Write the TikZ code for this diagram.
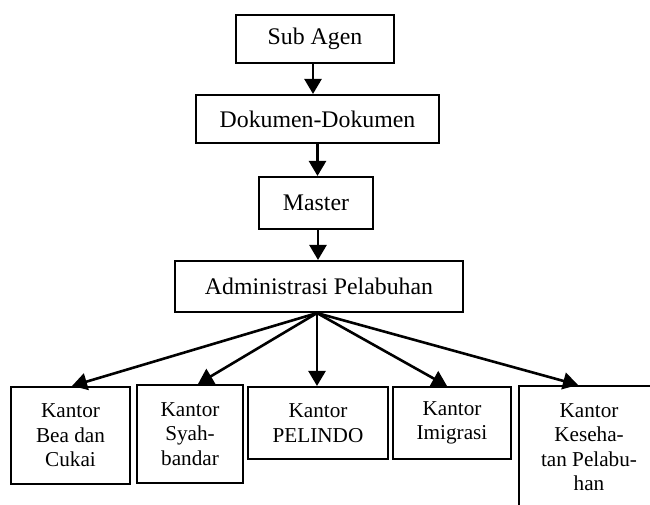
\documentclass[tikz,border=0pt]{standalone}
\usepackage{fontspec}
\setmainfont{Liberation Serif}
\usetikzlibrary{arrows.meta,calc}
\begin{document}
\begin{tikzpicture}[x=1pt,y=-1pt,
  box/.style={draw,line width=2.1pt,inner sep=0pt,align=center,font=\fontsize{23.8}{28}\selectfont},
  lowbox/.style={draw,line width=2.1pt,inner sep=0pt,align=center,font=\fontsize{21.2}{24.5}\selectfont},
  arr/.style={line width=2.6pt,-{Triangle[length=15pt,width=17pt]}}]
\useasboundingbox (0,0) rectangle (650,504);
\clip (0,0) rectangle (650,504);
\node[box,minimum width=158pt,minimum height=48pt] (sub) at (315,39) {Sub Agen};
\node[box,minimum width=243pt,minimum height=48pt] (dok) at (317.5,119) {Dokumen-Dokumen};
\node[box,minimum width=114pt,minimum height=52pt] (mas) at (316,203) {Master};
\node[box,minimum width=288pt,minimum height=51pt] (adm) at (319,286.5) {Administrasi Pelabuhan};
\node[lowbox,minimum width=119pt,minimum height=97pt] (bea) at (70.5,435.5) {Kantor\\Bea dan\\Cukai};
\node[lowbox,minimum width=106pt,minimum height=98pt] (syah) at (190,434) {Kantor\\Syah-\\bandar};
\node[lowbox,minimum width=140pt,minimum height=72pt] (pel) at (318,423) {Kantor\\PELINDO};
\node[lowbox,minimum width=118pt,minimum height=72pt] (imi) at (452,423) {Kantor\\Imigrasi};
\node[lowbox,minimum width=140pt,minimum height=122pt] (kes) at (589,447) {Kantor\\Keseha-\\tan Pelabu-\\han};
\draw[arr] ($(sub.south)+(-2,0)$) -- ($(sub.south |- dok.north)+(-2,0)$);
\draw[arr] (dok.south) -- (dok.south |- mas.north);
\draw[arr] ($(mas.south)+(2,0)$) -- ($(mas.south |- adm.north)+(2,0)$);
\draw[arr] ($(adm.south)+(-2,0)$) -- ($(bea.north)+(1.5,0)$);
\draw[arr] ($(adm.south)+(-2,0)$) -- ($(syah.north)+(8,0)$);
\draw[arr] ($(adm.south)+(-2,0)$) -- ($(adm.south |- pel.north)+(-2,0)$);
\draw[arr] ($(adm.south)+(-2,0)$) -- ($(imi.north)+(-5,0)$);
\draw[arr] ($(adm.south)+(-2,0)$) -- ($(kes.north)+(-11,0)$);
\end{tikzpicture}
\end{document}
